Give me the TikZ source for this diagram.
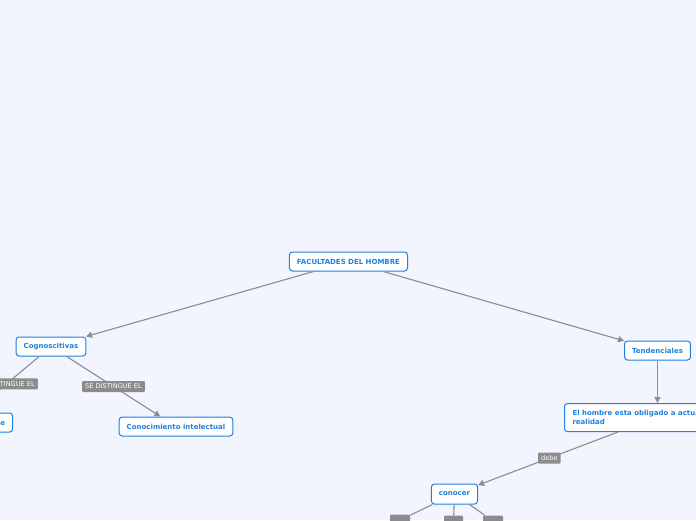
\documentclass[tikz,border=0pt]{standalone}
\usepackage{fontspec}
\setmainfont{DejaVu Sans}
\usetikzlibrary{arrows.meta,positioning}
\definecolor{pagebg}{HTML}{F2F5FE}
\definecolor{topicblue}{HTML}{1F80E0}
\definecolor{linkgrey}{HTML}{8A8C96}
\definecolor{tagfill}{HTML}{8C8C8C}

\begin{document}
\begin{tikzpicture}[x=1pt,y=-1pt,
  topic/.style={draw=topicblue,line width=1pt,fill=white,rounded corners=3pt,text=topicblue,font=\fontsize{7}{9}\selectfont\bfseries,inner xsep=7.5pt,minimum height=19pt},
  tag/.style={fill=tagfill,text=white,font=\fontsize{6.6}{7}\selectfont,inner xsep=3pt,inner ysep=0pt,minimum height=11pt,rounded corners=1pt},
  link/.style={draw=linkgrey,line width=1.1pt},
  arr/.style={link,-{Triangle[length=6pt,width=6pt]}}]
\useasboundingbox (0,0) rectangle (696,520);\clip (0,0) rectangle (696,520);
\fill[pagebg] (0,0) rectangle (696,520);
% main topic and the two branches
\node[topic] (fac) at (348.5,261.5) {FACULTADES DEL HOMBRE};
\node[topic] (cog) at (51,346.5) {Cognoscitivas};
\node[topic] (tend) at (657.5,350.5) {Tendenciales};
\draw[arr] (fac) -- (cog);\draw[arr] (fac) -- (tend);
% cognoscitivas
\node[topic,anchor=east] (sens) at (13,422.5) {Conocimiento sensible};
\node[topic] (intel) at (176,426.5) {Conocimiento intelectual};
\draw[link] (cog) -- node[tag,pos=.49]{SE DISTINGUE EL} (sens);
\draw[arr] (cog) -- node[tag]{SE DISTINGUE EL} (intel);
% tendenciales
\node[topic,anchor=north west,minimum height=28pt,align=left,inner xsep=8pt] (hom) at (564,403) {El hombre esta obligado a actuar en la\\realidad};
\draw[arr] (tend.south) -- (tend.south |- hom.north);
\node[topic,minimum height=20pt] (con) at (454.5,494) {conocer};
\draw[arr] ([xshift=54pt]hom.south west) -- node[tag,pos=.49]{debe} (con);
\node[tag,minimum width=20pt] (t1) at (400,520) {};
\node[tag,minimum width=19pt] (t2) at (453.5,521) {};
\node[tag,minimum width=20pt] (t3) at (493,521) {};
\draw[link] (con) -- (t1);\draw[link] (con) -- (t2);\draw[link] (con) -- (t3);
\end{tikzpicture}
\end{document}
